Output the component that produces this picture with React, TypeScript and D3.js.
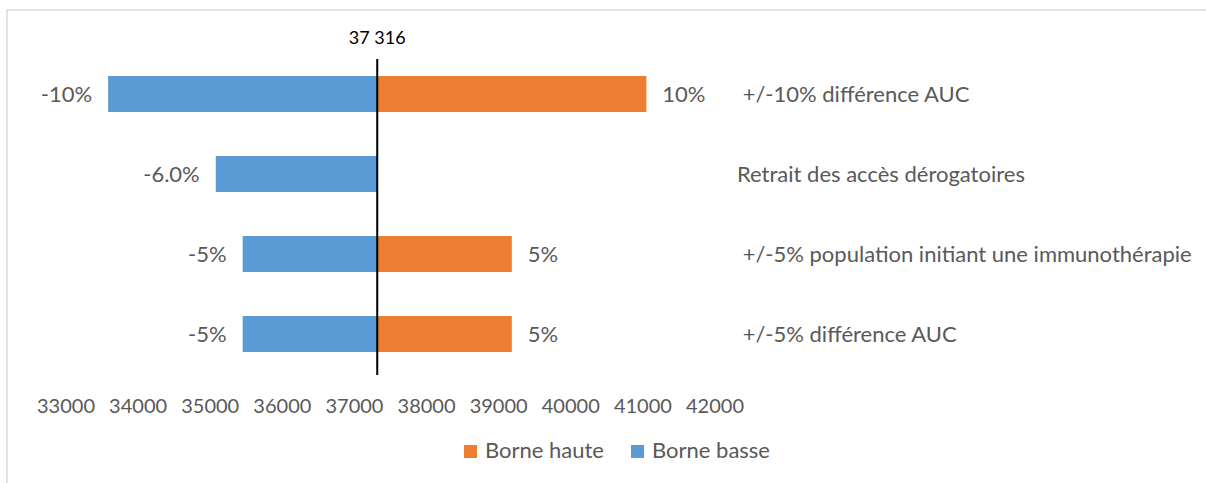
import React, { useEffect } from 'react';
import * as d3 from 'd3';

// Tornado chart data
const categories = [
  '\u00a0+/-10% différence AUC',
  'Retrait des accès dérogatoires',
  '\u00a0+/-5% population initiant une immunothérapie',
  '\u00a0+/-5% différence AUC',
];
const baseValue = 37316;
const lowValues = [33584, 35077, 35450, 35450];
const highValues = [41048, null, 39182, 39182];
const lowLabels = ['-10%', '-6.0%', '-5%', '-5%'];
const highLabels = ['10%', '', '5%', '5%'];
const xTicks = [33000, 34000, 35000, 36000, 37000, 38000, 39000, 40000, 41000, 42000];
const seriesNames = ['Borne haute', 'Borne basse'];

const WIDTH = 1206;
const HEIGHT = 483;
const BLUE = '#5B9BD5';
const ORANGE = '#ED7D31';
const GREY = '#595959';
const FONT = 'Lato, "Open Sans", sans-serif';

const App = () => {
  useEffect(() => {
    document.body.style.margin = '0';
  }, []);

  const x = d3.scaleLinear().domain([33000, 42000]).range([66, 715]);
  const y = d3
    .scaleBand<number>()
    .domain(d3.range(categories.length))
    .range([54, 374])
    .paddingInner(0.55)
    .paddingOuter(0.275);

  const labelX = 737;
  const legendColors = [ORANGE, BLUE];
  const legendX = [464, 631];

  return (
    <svg width={WIDTH} height={HEIGHT} style={{ display: 'block' }} fontFamily={FONT}>
      <rect x={0} y={0} width={WIDTH} height={HEIGHT} fill="#fff" />
      {/* chart frame */}
      <rect x={7} y={10} width={WIDTH} height={HEIGHT} fill="none" stroke="#d9d9d9" strokeWidth={1.5} />

      {categories.map((cat, i) => {
        const y0 = y(i) as number;
        const bh = y.bandwidth();
        const cy = y0 + bh / 2;
        const lo = lowValues[i];
        const hi = highValues[i];
        return (
          <g key={i}>
            <rect x={x(lo)} y={y0} width={x(baseValue) - x(lo)} height={bh} fill={BLUE} />
            {hi !== null && (
              <rect x={x(baseValue)} y={y0} width={x(hi) - x(baseValue)} height={bh} fill={ORANGE} />
            )}
            <text x={x(lo) - 16} y={cy} dy="0.36em" textAnchor="end" fontSize={22} fill={GREY}>
              {lowLabels[i]}
            </text>
            {hi !== null && (
              <text x={x(hi) + 16} y={cy} dy="0.36em" textAnchor="start" fontSize={22} fill={GREY}>
                {highLabels[i]}
              </text>
            )}
            <text x={labelX} y={cy} dy="0.36em" fontSize={22} fill={GREY} style={{ whiteSpace: 'pre' }}>
              {cat}
            </text>
          </g>
        );
      })}

      {/* base value line */}
      <line x1={x(baseValue)} x2={x(baseValue)} y1={59} y2={375} stroke="#000" strokeWidth={2} />
      <text x={x(baseValue)} y={44} textAnchor="middle" fontSize={18} fill="#000">
        {d3.format(',')(baseValue).replace(',', ' ')}
      </text>

      {/* x axis tick labels */}
      {xTicks.map((t) => (
        <text key={t} x={x(t)} y={413} textAnchor="middle" fontSize={20} fill={GREY}>
          {t}
        </text>
      ))}

      {/* legend */}
      {seriesNames.map((name, i) => (
        <g key={name}>
          <rect x={legendX[i]} y={445} width={13} height={13} fill={legendColors[i]} />
          <text x={legendX[i] + 21} y={458} fontSize={22} fill={GREY}>
            {name}
          </text>
        </g>
      ))}
    </svg>
  );
};

export default App;
